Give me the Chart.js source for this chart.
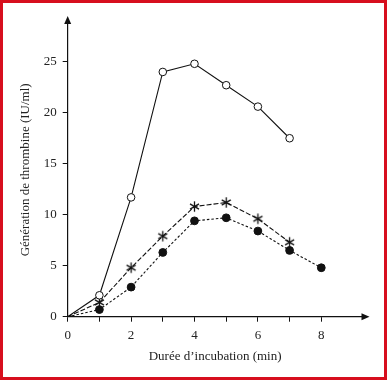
<!DOCTYPE html>
<html>
<head>
<meta charset="utf-8">
<script src="https://cdn.jsdelivr.net/npm/chart.js@4/dist/chart.umd.min.js"></script>
<style>
html,body{margin:0;padding:0;background:#fff;}
#wrap{position:relative;width:387px;height:380px;}
canvas{display:block;}
</style>
</head>
<body>
<div id="wrap"><canvas id="c" width="387" height="380"></canvas></div>
<script>
// Data
const minutes = [0, 1, 2, 3, 4, 5, 6, 7, 8];
const openCircles = [0, 2.1, 11.7, 24.0, 24.8, 22.7, 20.6, 17.5];
const stars = [0, 1.4, 4.8, 7.9, 10.8, 11.2, 9.6, 7.3];
const filledCircles = [0, 0.7, 2.9, 6.3, 9.4, 9.7, 8.4, 6.5, 4.8];
const xTickLabels = [0, 2, 4, 6, 8];
const yTickLabels = [0, 5, 10, 15, 20, 25];

function pts(vals){ return vals.map((v,i)=>({x: minutes[i], y: v})); }
function radii(vals, r){ return vals.map((v,i)=> i===0 ? 0 : r); }

// 6-arm asterisk marker
const ast = document.createElement('canvas');
ast.width = 13; ast.height = 13;
(function(){
  const g = ast.getContext('2d');
  g.strokeStyle = '#111'; g.lineWidth = 1.3;
  const c = 6.5, r = 5.2;
  for (let k = 0; k < 3; k++) {
    const a = Math.PI/2 + k*Math.PI/3;
    g.beginPath();
    g.moveTo(c + r*Math.cos(a), c - r*Math.sin(a));
    g.lineTo(c - r*Math.cos(a), c + r*Math.sin(a));
    g.stroke();
  }
})();

const FONT = {family: '"Liberation Serif", "Times New Roman", serif', size: 13};

const decor = {
  id: 'decor',
  afterDraw(chart){
    const ctx = chart.ctx, a = chart.chartArea;
    ctx.save();
    ctx.fillStyle = '#111';
    // x arrow
    ctx.beginPath();
    ctx.moveTo(a.right + 7, a.bottom);
    ctx.lineTo(a.right - 1, a.bottom - 3.5);
    ctx.lineTo(a.right - 1, a.bottom + 3.5);
    ctx.closePath(); ctx.fill();
    // y arrow
    ctx.beginPath();
    ctx.moveTo(a.left, a.top - 7);
    ctx.lineTo(a.left - 3.5, a.top + 1);
    ctx.lineTo(a.left + 3.5, a.top + 1);
    ctx.closePath(); ctx.fill();
    // red frame
    ctx.strokeStyle = '#d70f1e';
    ctx.lineWidth = 3;
    ctx.strokeRect(1.5, 1.5, chart.width - 3, chart.height - 3);
    ctx.restore();
  }
};

new Chart(document.getElementById('c'), {
  type: 'line',
  data: {
    datasets: [
      {
        data: pts(openCircles),
        borderColor: '#111', borderWidth: 1.1,
        pointStyle: 'circle', pointRadius: radii(openCircles, 3.8),
        pointBackgroundColor: '#fff', pointBorderColor: '#111', pointBorderWidth: 1,
        tension: 0
      },
      {
        data: pts(stars),
        borderColor: '#111', borderWidth: 1.1, borderDash: [5, 2],
        pointStyle: stars.map((v,i)=> i===0 ? 'circle' : ast),
        pointRadius: radii(stars, 5),
        tension: 0
      },
      {
        data: pts(filledCircles),
        borderColor: '#111', borderWidth: 1.1, borderDash: [2.5, 2],
        pointStyle: 'circle', pointRadius: radii(filledCircles, 3.9),
        pointBackgroundColor: '#111', pointBorderColor: '#111', pointBorderWidth: 1,
        tension: 0
      }
    ]
  },
  options: {
    responsive: false,
    animation: false,
    layout: {padding: {top: 23, right: 24.5, bottom: 0, left: 0}},
    plugins: {legend: {display: false}, tooltip: {enabled: false}},
    scales: {
      x: {
        type: 'linear', min: 0, max: 9.3,
        afterFit(s){ s.height = 63.3; },
        afterBuildTicks(s){ s.ticks = minutes.map(v=>({value: v})); },
        ticks: {
          includeBounds: false, stepSize: 1, padding: 6, color: '#222', font: FONT, maxRotation: 0,
          callback: (v)=> xTickLabels.includes(v) ? String(v) : ''
        },
        grid: {display: true, drawOnChartArea: false, drawTicks: true, tickLength: 5, color: '#111', lineWidth: 1},
        border: {display: true, color: '#111', width: 1.2},
        title: {display: true, text: 'Durée d\u2019incubation (min)', color: '#222', font: FONT, padding: {top: 4, bottom: 16}}
      },
      y: {
        type: 'linear', min: 0, max: 28.8,
        afterFit(s){ s.width = 67.7; },
        afterBuildTicks(s){ s.ticks = yTickLabels.map(v=>({value: v})); },
        ticks: {includeBounds: false, stepSize: 5, padding: 6, color: '#222', font: FONT},
        grid: {display: true, drawOnChartArea: false, drawTicks: true, tickLength: 5, color: '#111', lineWidth: 1},
        border: {display: true, color: '#111', width: 1.2},
        title: {display: true, text: 'Génération de thrombine (IU/ml)', color: '#222', font: FONT, padding: {top: 18, bottom: 0}}
      }
    }
  },
  plugins: [decor]
});
</script>
</body>
</html>
